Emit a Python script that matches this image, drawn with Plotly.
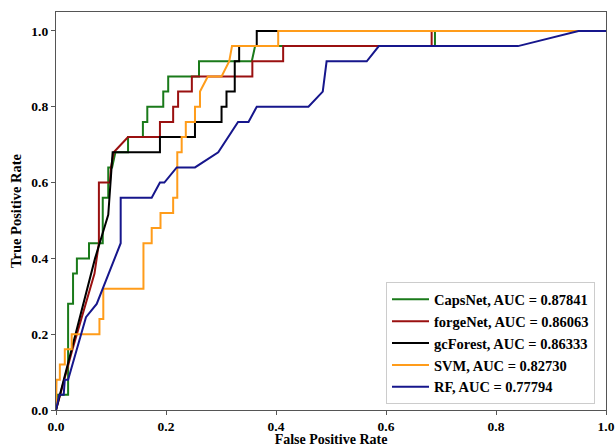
import plotly.graph_objects as go

# ROC curves (fpr, tpr)
capsnet_fpr = [0, 0.002, 0.022, 0.022, 0.031, 0.031, 0.038, 0.038, 0.06, 0.06, 0.085, 0.085, 0.095, 0.095, 0.102, 0.108, 0.131, 0.131, 0.158, 0.158, 0.166, 0.166, 0.195, 0.195, 0.204, 0.204, 0.26, 0.26, 0.356, 0.362, 0.689, 0.689, 1.0]
capsnet_tpr = [0, 0.04, 0.04, 0.28, 0.28, 0.36, 0.36, 0.40, 0.40, 0.44, 0.44, 0.56, 0.56, 0.64, 0.64, 0.68, 0.68, 0.72, 0.72, 0.76, 0.76, 0.80, 0.80, 0.84, 0.84, 0.88, 0.88, 0.92, 0.92, 0.96, 0.96, 1.0, 1.0]

forgenet_fpr = [0, 0.03, 0.07, 0.078, 0.078, 0.098, 0.1, 0.105, 0.131, 0.189, 0.189, 0.213, 0.213, 0.222, 0.222, 0.247, 0.247, 0.357, 0.357, 0.413, 0.413, 0.683, 0.683, 1.0]
forgenet_tpr = [0, 0.16, 0.36, 0.44, 0.60, 0.60, 0.64, 0.68, 0.72, 0.72, 0.76, 0.76, 0.80, 0.80, 0.84, 0.84, 0.88, 0.88, 0.92, 0.92, 0.96, 0.96, 1.0, 1.0]

gcforest_fpr = [0, 0.071, 0.095, 0.103, 0.189, 0.189, 0.2527, 0.2527, 0.301, 0.301, 0.31, 0.31, 0.325, 0.325, 0.333, 0.333, 0.365, 0.365, 1.0]
gcforest_tpr = [0, 0.40, 0.515, 0.68, 0.68, 0.72, 0.72, 0.76, 0.76, 0.80, 0.80, 0.84, 0.84, 0.92, 0.92, 0.96, 0.96, 1.0, 1.0]

svm_fpr = [0, 0.001, 0.007, 0.007, 0.016, 0.016, 0.0285, 0.0285, 0.079, 0.079, 0.086, 0.086, 0.159, 0.159, 0.174, 0.174, 0.19, 0.19, 0.213, 0.213, 0.2205, 0.2205, 0.2285, 0.2285, 0.236, 0.236, 0.2527, 0.2527, 0.2618, 0.2618, 0.276, 0.301, 0.315, 0.32, 0.404, 0.404, 1.0]
svm_tpr = [0, 0.08, 0.08, 0.12, 0.12, 0.16, 0.16, 0.20, 0.20, 0.24, 0.24, 0.32, 0.32, 0.44, 0.44, 0.48, 0.48, 0.52, 0.52, 0.56, 0.56, 0.68, 0.68, 0.72, 0.72, 0.76, 0.76, 0.80, 0.80, 0.84, 0.88, 0.88, 0.92, 0.96, 0.96, 1.0, 1.0]

rf_fpr = [0, 0.006, 0.014, 0.016, 0.022, 0.0545, 0.074, 0.1176, 0.1176, 0.174, 0.189, 0.197, 0.2195, 0.2527, 0.295, 0.331, 0.35, 0.365, 0.459, 0.485, 0.492, 0.565, 0.587, 0.84, 0.95, 1.0]
rf_tpr = [0, 0.04, 0.04, 0.08, 0.08, 0.245, 0.28, 0.44, 0.56, 0.56, 0.60, 0.60, 0.64, 0.64, 0.68, 0.76, 0.76, 0.80, 0.80, 0.84, 0.92, 0.92, 0.96, 0.96, 1.0, 1.0]

names = ["CapsNet, AUC = 0.87841", "forgeNet, AUC = 0.86063", "gcForest, AUC = 0.86333",
         "SVM, AUC = 0.82730", "RF, AUC = 0.77794"]
colors = ["#1a7a1a", "#9a1010", "#000000", "#ff9c1a", "#16168c"]
series = [(capsnet_fpr, capsnet_tpr), (forgenet_fpr, forgenet_tpr), (gcforest_fpr, gcforest_tpr),
          (svm_fpr, svm_tpr), (rf_fpr, rf_tpr)]

fig = go.Figure()
for (fx, ty), nm, c in zip(series, names, colors):
    fig.add_trace(go.Scatter(x=fx, y=ty, mode="lines", name=nm,
                             line=dict(color=c, width=2)))

font_family = "Liberation Serif, Times New Roman, serif"
axis_common = dict(
    showgrid=False, zeroline=False, showline=True, linecolor="#555555", linewidth=1.2,
    mirror=True, ticks="outside", ticklen=4, tickcolor="#555555", tickwidth=1,
    tickformat=".1f", dtick=0.2, automargin=False,
    tickfont=dict(family=font_family, size=13.5, color="#000000", weight="bold"),
)
fig.update_xaxes(range=[0, 1.0], tick0=0,
                 title=dict(text="<b>False Positive Rate</b>", standoff=4,
                            font=dict(family=font_family, size=14, color="#000000")),
                 **axis_common)
fig.update_yaxes(range=[0, 1.05], tick0=0,
                 title=dict(text="<b>True Positive Rate</b>", standoff=6,
                            font=dict(family=font_family, size=14.5, color="#000000")),
                 **axis_common)
fig.update_layout(
    width=615, height=447,
    margin=dict(l=56, r=9, t=12, b=37),
    plot_bgcolor="white", paper_bgcolor="white",
    font=dict(family=font_family, color="#000000"),
    legend=dict(x=0.6, y=0.014, xanchor="left", yanchor="bottom",
                bgcolor="rgba(255,255,255,0.9)", bordercolor="#cccccc", borderwidth=1,
                font=dict(family=font_family, size=14.5, color="#000000", weight="bold"),
                tracegroupgap=0, itemwidth=37),
    showlegend=True,
)

fig.write_html("out.html")
